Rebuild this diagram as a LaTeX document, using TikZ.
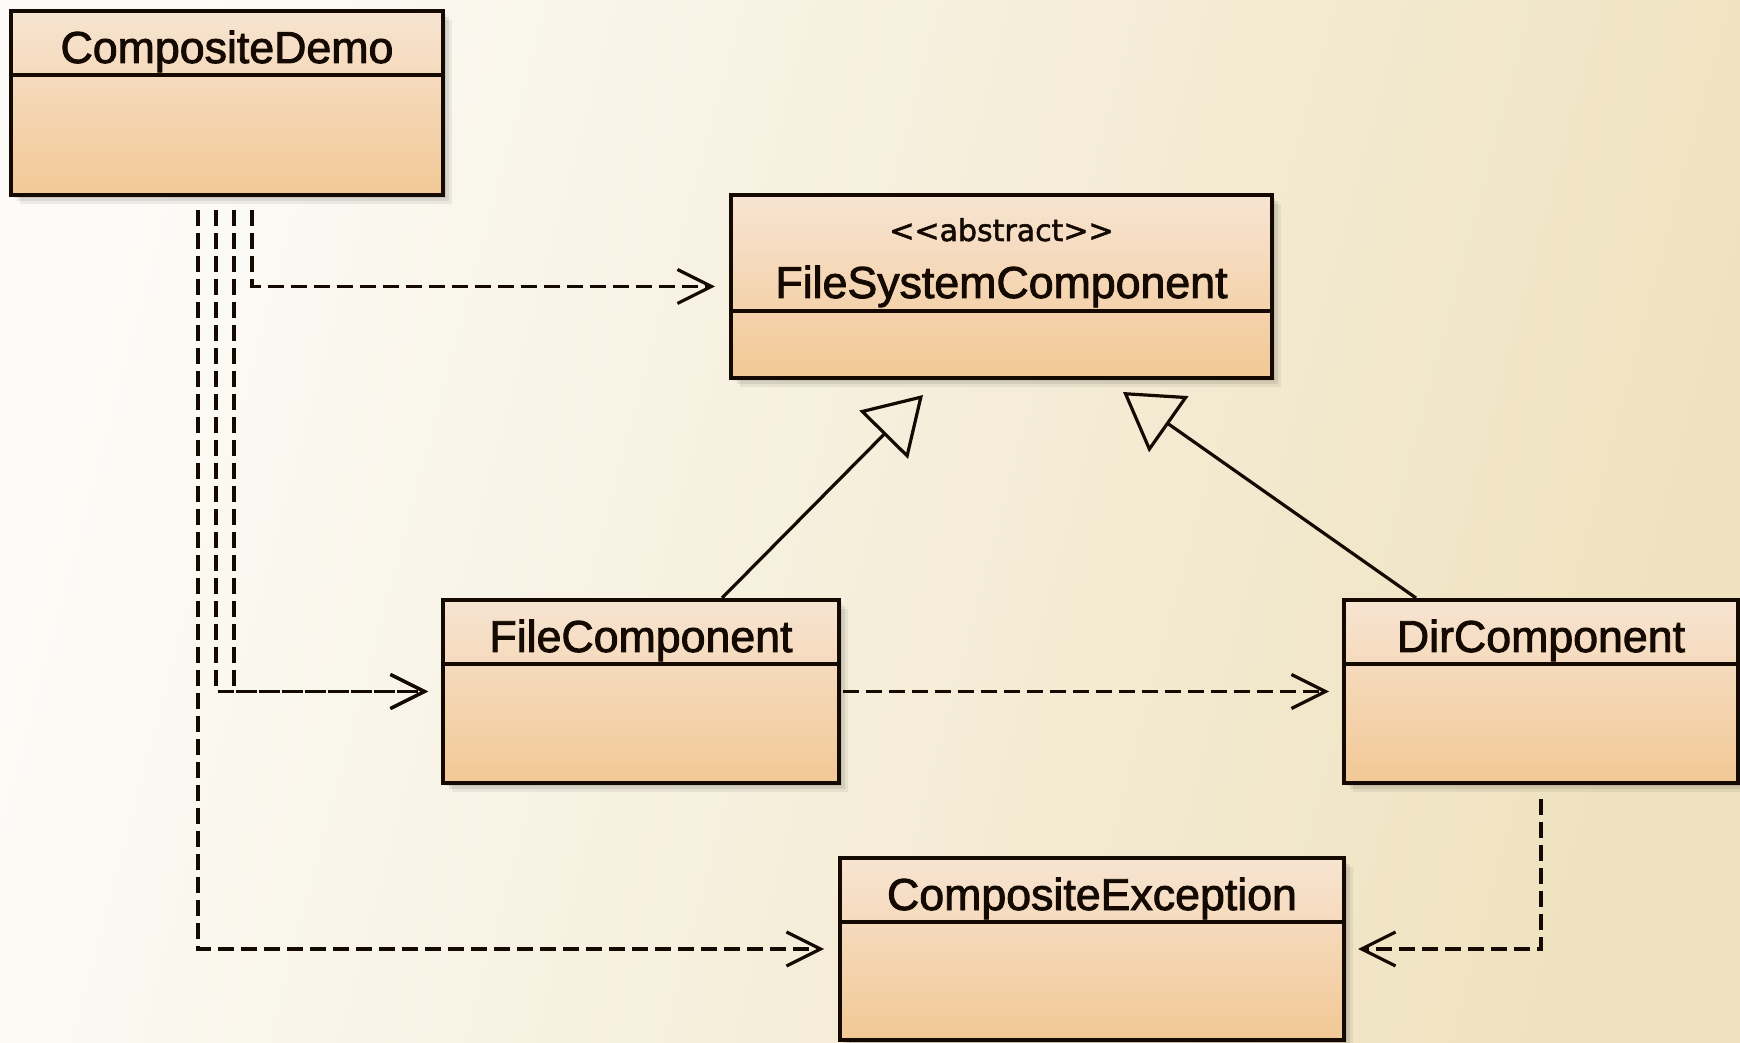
\documentclass[tikz,border=0pt]{standalone}
\usepackage{fontspec}
\setmainfont{Liberation Sans}
\newfontfamily\titlefont{Liberation Sans}[FakeBold=2]
\newfontfamily\stereofont{DejaVu Sans}[FakeBold=1.8]
\usetikzlibrary{arrows.meta,shadows,calc}

\definecolor{bgLight}{HTML}{FCFBF7}
\definecolor{bgDark}{HTML}{EFE2BF}
\definecolor{boxTop}{HTML}{F7E4D2}
\definecolor{boxBottom}{HTML}{F2C895}
\definecolor{ink}{HTML}{140A02}

\tikzset{
  softshadow/.style={
    general shadow={fill=black, opacity=0.08, shadow xshift=3pt, shadow yshift=-3pt},
    general shadow={fill=black, opacity=0.08, shadow xshift=6pt, shadow yshift=-6pt},
    general shadow={fill=black, opacity=0.06, shadow xshift=9pt, shadow yshift=-9pt}},
  classbox/.style={draw=ink, line width=4pt, top color=boxTop, bottom color=boxBottom,
    inner sep=0pt, softshadow},
  sepline/.style={draw=ink, line width=3.5pt},
  title/.style={inner sep=0pt, text=ink, font=\titlefont\fontsize{44.7}{50}\selectfont},
  stereo/.style={inner sep=0pt, text=ink, font=\stereofont\fontsize{30}{34}\selectfont},
  dep/.style={draw=ink, line width=3.4pt, dash pattern=on 16pt off 7pt,
    -{Straight Barb[length=34pt, width=34pt, line width=3.2pt]}},
  gen/.style={draw=ink, line width=3.2pt,
    -{Triangle[open, length=56pt, width=68pt, line width=3.2pt]}}
}

\begin{document}
\begin{tikzpicture}[x=1pt, y=1pt]
  % canvas and background
  \useasboundingbox (0,0) rectangle (1740,1042);
  \shade[shading=axis, left color=bgLight, right color=bgDark, shading angle=75]
    (0,0) rectangle (1740,1042);

  % class boxes
  \node[classbox, minimum width=432pt, minimum height=184pt] (cd)  at (227,939) {};
  \node[classbox, minimum width=541pt, minimum height=183pt] (fsc) at (1001.5,755.5) {};
  \node[classbox, minimum width=396pt, minimum height=183pt] (fc)  at (641,350.5) {};
  \node[classbox, minimum width=394pt, minimum height=183pt] (dc)  at (1541,350.5) {};
  \node[classbox, minimum width=504pt, minimum height=182pt] (ce)  at (1092,93) {};

  % compartment separators
  \draw[sepline] ([yshift=-66pt]cd.north west)  -- ([yshift=-66pt]cd.north east);
  \draw[sepline] ([yshift=-118pt]fsc.north west) -- ([yshift=-118pt]fsc.north east);
  \draw[sepline] ([yshift=-66pt]fc.north west)  -- ([yshift=-66pt]fc.north east);
  \draw[sepline] ([yshift=-66pt]dc.north west)  -- ([yshift=-66pt]dc.north east);
  \draw[sepline] ([yshift=-66pt]ce.north west)  -- ([yshift=-66pt]ce.north east);

  % class names
  \node[title, anchor=base] (cdname)  at ([yshift=-54pt]cd.north)  {CompositeDemo};
  \node[stereo, anchor=base] (fscstereo) at ([yshift=-48pt]fsc.north) {<\kern0pt<abstract>\kern0pt>};
  \node[title, anchor=base] (fscname) at ([yshift=-105pt]fsc.north) {FileSystemComponent};
  \node[title, anchor=base] (fcname)  at ([yshift=-54pt]fc.north)  {FileComponent};
  \node[title, anchor=base] (dcname)  at ([yshift=-54pt]dc.north)  {DirComponent};
  \node[title, anchor=base] (cename)  at ([yshift=-54pt]ce.north)  {CompositeException};

  % dependencies
  \draw[dep] ([xshift=25pt,yshift=-13pt]cd.south)  |- ([xshift=-14pt]fsc.west);
  \draw[dep] ([xshift=7pt,yshift=-13pt]cd.south)   |- ([xshift=-13pt]fc.west);
  \draw[dep] ([xshift=-11pt,yshift=-13pt]cd.south) |- ([xshift=-13pt]fc.west);
  \draw[dep] ([xshift=-29pt,yshift=-13pt]cd.south) |- ([xshift=-14pt]ce.west);
  \draw[dep] ([xshift=2pt]fc.east) -- ([xshift=-13pt]dc.west);
  \draw[dep] ([yshift=-14pt]dc.south) |- ([xshift=12pt]ce.east);

  % generalizations
  \draw[gen] ([xshift=81pt]fc.north)   -- ([xshift=-78.5pt,yshift=-15pt]fsc.south);
  \draw[gen] ([xshift=-125pt]dc.north) -- ([xshift=121.5pt,yshift=-12pt]fsc.south);
\end{tikzpicture}
\end{document}
